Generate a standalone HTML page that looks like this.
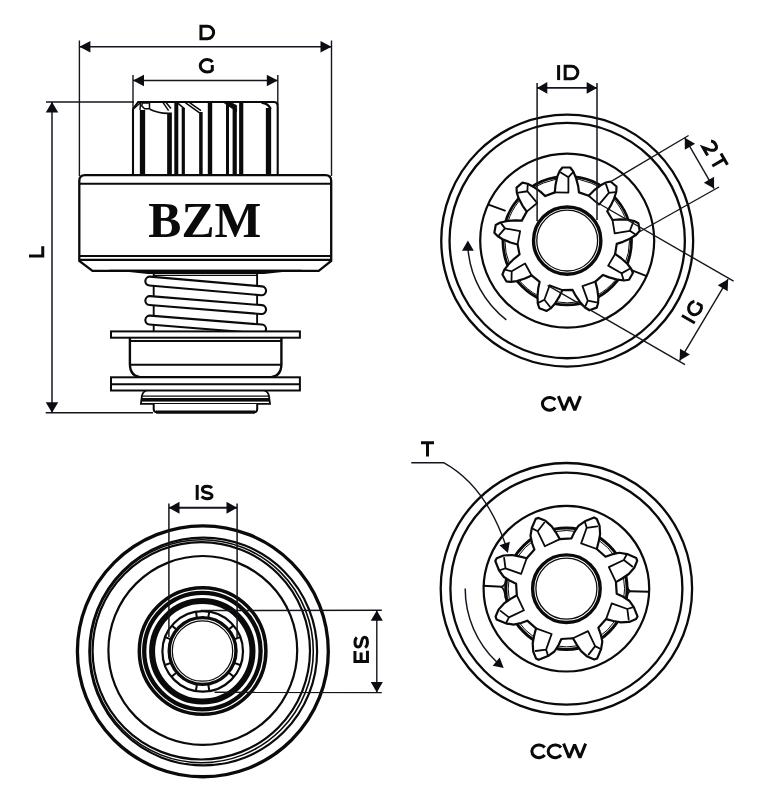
<!DOCTYPE html>
<html><head><meta charset="utf-8"><title>BZM starter drive dimensions</title>
<style>
html,body{margin:0;padding:0;background:#fff;}
body{width:759px;height:800px;overflow:hidden;font-family:"Liberation Sans",sans-serif;}
svg{display:block;}
</style></head><body>
<svg width="759" height="800" viewBox="0 0 759 800">
<rect width="759" height="800" fill="#fff"/>
<line x1="79.40" y1="40.50" x2="79.40" y2="176.00" stroke="#14161f" stroke-width="1.40" />
<line x1="331.50" y1="40.50" x2="331.50" y2="176.00" stroke="#14161f" stroke-width="1.40" />
<line x1="79.40" y1="46.80" x2="331.50" y2="46.80" stroke="#14161f" stroke-width="1.50" />
<polygon points="79.40,46.80 90.40,41.05 90.40,52.55" fill="#0c0d12"/>
<polygon points="331.50,46.80 320.50,52.55 320.50,41.05" fill="#0c0d12"/>
<g transform="translate(207.30,32.50) rotate(0.00) scale(1.000)" fill="none" stroke="#0a0a0a" stroke-width="3.00"><path transform="translate(-7.60,7.50)" d="M1.25,-1.25 V-13.75 H7.7 A6.25,6.25 0 0 1 7.7,-1.25 Z" stroke-linejoin="miter"/></g>
<line x1="133.00" y1="75.00" x2="133.00" y2="108.00" stroke="#14161f" stroke-width="1.40" />
<line x1="277.80" y1="75.00" x2="277.80" y2="105.00" stroke="#14161f" stroke-width="1.40" />
<line x1="133.00" y1="80.50" x2="277.80" y2="80.50" stroke="#14161f" stroke-width="1.50" />
<polygon points="133.00,80.50 144.00,74.75 144.00,86.25" fill="#0c0d12"/>
<polygon points="277.80,80.50 266.80,86.25 266.80,74.75" fill="#0c0d12"/>
<g transform="translate(206.30,65.80) rotate(0.00) scale(1.000)" fill="none" stroke="#0a0a0a" stroke-width="3.00"><path transform="translate(-7.45,7.50)" d="M13.7,-11.3 A6.9,6.25 0 0 0 8.3,-13.75 A6.9,6.25 0 0 0 8.3,-1.25 C10.7,-1.25 12.5,-2.0 13.45,-3.2 V-8.3" stroke-linejoin="miter"/></g>
<line x1="46.00" y1="102.00" x2="134.00" y2="102.00" stroke="#14161f" stroke-width="1.40" />
<line x1="45.70" y1="412.80" x2="153.00" y2="412.80" stroke="#14161f" stroke-width="1.40" />
<line x1="52.00" y1="102.00" x2="52.00" y2="412.80" stroke="#14161f" stroke-width="1.50" />
<polygon points="52.00,102.00 58.25,112.50 45.75,112.50" fill="#0c0d12"/>
<polygon points="52.00,412.80 45.75,402.30 58.25,402.30" fill="#0c0d12"/>
<g transform="translate(36.50,251.80) rotate(-90.00) scale(1.000)" fill="none" stroke="#0a0a0a" stroke-width="3.00"><path transform="translate(-5.50,7.50)" d="M1.25,-15.00 V-1.25 H11" stroke-linejoin="miter"/></g>
<path d="M133,175 V109.2 L138.2,102 H273.8 Q277.7,102 277.7,106.2 V175" fill="#fff" stroke="#0a0a0a" stroke-width="2.10" />
<rect x="139.85" y="110.00" width="5.30" height="65.00" fill="#0a0a0a"/>
<rect x="167.15" y="112.50" width="4.70" height="62.50" fill="#0a0a0a"/>
<rect x="174.30" y="102.00" width="4.00" height="73.00" fill="#0a0a0a"/>
<rect x="181.70" y="108.00" width="3.20" height="67.00" fill="#0a0a0a"/>
<rect x="199.15" y="112.00" width="3.50" height="63.00" fill="#0a0a0a"/>
<rect x="207.80" y="102.00" width="4.40" height="73.00" fill="#0a0a0a"/>
<rect x="226.00" y="104.50" width="3.00" height="70.50" fill="#0a0a0a"/>
<rect x="232.60" y="109.00" width="4.20" height="66.00" fill="#0a0a0a"/>
<rect x="239.10" y="102.00" width="4.20" height="73.00" fill="#0a0a0a"/>
<rect x="265.85" y="108.00" width="5.30" height="67.00" fill="#0a0a0a"/>
<path d="M134.3,108.3 L140.6,102.6 L140,110" fill="none" stroke="#0a0a0a" stroke-width="1.40" />
<path d="M142.3,103 H149.5 V108.8 H144.6 L141.8,106 Z" fill="none" stroke="#0a0a0a" stroke-width="1.50" />
<path d="M149.8,109.2 Q158,113.2 167.6,113.4" fill="none" stroke="#0a0a0a" stroke-width="1.60" />
<path d="M162.9,102.4 L168.6,110.6 M166,102.4 L171,108.4" fill="none" stroke="#0a0a0a" stroke-width="1.50" />
<path d="M177.2,102.6 L184.6,108.8" fill="none" stroke="#0a0a0a" stroke-width="1.60" />
<path d="M185.3,102.6 L199.6,112.8 M189.6,102.6 L201,110.6" fill="none" stroke="#0a0a0a" stroke-width="1.50" />
<path d="M223.6,102.5 L236.6,111.5 V105.5 L231,102.5 Z" fill="#0a0a0a" stroke="#0a0a0a" stroke-width="0.80" />
<path d="M261.5,102.6 Q268.5,103.5 270.6,109" fill="none" stroke="#0a0a0a" stroke-width="2.40" />
<path d="M79.3,261 V181 Q79.3,175.2 85,175.2 H325.5 Q331.2,175.2 331.2,181 V261 L318.7,270.8 H92.5 Z" fill="#fff" stroke="#0a0a0a" stroke-width="2.30" />
<line x1="79.30" y1="183.70" x2="331.20" y2="183.70" stroke="#0a0a0a" stroke-width="1.90" />
<line x1="79.30" y1="256.00" x2="331.20" y2="256.00" stroke="#0a0a0a" stroke-width="1.90" />
<line x1="79.30" y1="259.90" x2="331.20" y2="259.90" stroke="#0a0a0a" stroke-width="2.30" />
<polygon points="108,269.8 303,269.8 264,274 148,274" fill="#0a0a0a"/>
<text x="204.8" y="236.5" text-anchor="middle" font-family="Liberation Serif, serif" font-weight="bold" font-size="49.6" fill="#0a0a0a">BZM</text>
<line x1="153.70" y1="273.00" x2="153.70" y2="332.00" stroke="#0a0a0a" stroke-width="1.90" />
<line x1="257.10" y1="273.00" x2="257.10" y2="332.00" stroke="#0a0a0a" stroke-width="1.90" />
<line x1="153.70" y1="275.40" x2="257.10" y2="275.40" stroke="#0a0a0a" stroke-width="1.40" />
<clipPath id="spr"><rect x="130" y="272" width="150" height="59.5"/></clipPath>
<g clip-path="url(#spr)" stroke-linecap="round">
<line x1="149.80" y1="281.10" x2="261.60" y2="290.80" stroke="#0a0a0a" stroke-width="11.00" />
<line x1="149.80" y1="281.10" x2="261.60" y2="290.80" stroke="#fff" stroke-width="6.80" />
<line x1="149.80" y1="300.60" x2="261.60" y2="309.60" stroke="#0a0a0a" stroke-width="11.00" />
<line x1="149.80" y1="300.60" x2="261.60" y2="309.60" stroke="#fff" stroke-width="6.80" />
<line x1="149.80" y1="320.10" x2="261.60" y2="329.00" stroke="#0a0a0a" stroke-width="11.00" />
<line x1="149.80" y1="320.10" x2="261.60" y2="329.00" stroke="#fff" stroke-width="6.80" />
</g>
<path d="M146.5,390.5 Q142.6,391.6 141.9,396.2 L140.9,403.8 H270 L269,396.2 Q268.3,391.6 264.4,390.5" fill="#fff" stroke="#0a0a0a" stroke-width="1.80" />
<line x1="141.90" y1="396.20" x2="269.00" y2="396.20" stroke="#0a0a0a" stroke-width="1.30" />
<rect x="141.3" y="398.0" width="128.3" height="3.6" fill="#0a0a0a"/>
<path d="M153.7,404 V409 Q153.7,412.4 157.4,412.4 H253.5 Q257.2,412.4 257.2,409 V404" fill="#fff" stroke="#0a0a0a" stroke-width="2.00" />
<line x1="156.00" y1="412.00" x2="255.00" y2="412.00" stroke="#0a0a0a" stroke-width="2.80" />
<path d="M129.9,337.7 V364 Q129.9,377.3 143,377.3 H268.3 Q281.4,377.3 281.4,364 V337.7" fill="#fff" stroke="#0a0a0a" stroke-width="2.40" />
<line x1="129.90" y1="341.00" x2="281.40" y2="341.00" stroke="#0a0a0a" stroke-width="1.90" />
<line x1="130.20" y1="364.80" x2="281.10" y2="364.80" stroke="#0a0a0a" stroke-width="1.90" />
<rect x="111.0" y="331.4" width="188.9" height="6.3" fill="#fff" stroke="#0a0a0a" stroke-width="2.0"/>
<rect x="111.0" y="377.3" width="188.9" height="13.2" fill="#fff" stroke="#0a0a0a" stroke-width="2.0"/>
<line x1="111.00" y1="384.30" x2="299.90" y2="384.30" stroke="#0a0a0a" stroke-width="1.90" />
<circle cx="567.20" cy="240.60" r="125.95" fill="none" stroke="#0a0a0a" stroke-width="2.30"/>
<circle cx="567.20" cy="240.60" r="117.65" fill="none" stroke="#0a0a0a" stroke-width="2.30"/>
<circle cx="567.20" cy="240.60" r="87.00" fill="none" stroke="#0a0a0a" stroke-width="2.20"/>
<circle cx="567.20" cy="240.60" r="64.30" fill="none" stroke="#0a0a0a" stroke-width="2.80"/>
<circle cx="567.20" cy="240.60" r="62.30" fill="none" stroke="#0a0a0a" stroke-width="1.00"/>
<line x1="488.50" y1="204.60" x2="505.60" y2="210.90" stroke="#0a0a0a" stroke-width="1.90" />
<line x1="631.50" y1="270.20" x2="647.30" y2="276.30" stroke="#0a0a0a" stroke-width="1.90" />
<path d="M554.80,192.40 L555.50,185.00 L557.30,176.70 L559.60,171.20 L562.40,167.50 L570.20,167.50 L573.40,171.60 L576.20,178.60 L578.10,185.90 L579.00,192.40 L588.68,195.71 L593.98,190.49 L600.69,185.29 L605.99,182.55 L610.51,181.52 L616.49,186.53 L616.30,191.73 L613.95,198.89 L610.71,205.70 L607.22,211.26 L612.51,220.02 L619.92,219.42 L628.41,219.75 L634.23,221.06 L638.36,223.18 L639.71,230.86 L636.23,234.72 L629.82,238.70 L622.96,241.84 L616.72,243.85 L615.14,253.96 L621.20,258.27 L627.49,263.98 L631.10,268.72 L632.91,272.99 L629.01,279.75 L623.86,280.47 L616.39,279.39 L609.12,277.39 L603.04,274.92 L595.34,281.65 L597.21,288.85 L598.36,297.26 L598.08,303.22 L596.71,307.65 L589.38,310.32 L584.97,307.56 L579.95,301.94 L575.67,295.73 L572.60,289.93 L562.37,290.13 L559.18,296.85 L554.65,304.03 L550.61,308.41 L546.71,310.93 L539.38,308.27 L537.77,303.32 L537.54,295.78 L538.25,288.27 L539.63,281.86 L531.66,275.44 L524.90,278.53 L516.81,281.12 L510.90,281.88 L506.29,281.31 L502.39,274.55 L504.34,269.73 L509.01,263.81 L514.38,258.51 L519.56,254.48 L517.58,244.44 L510.41,242.47 L502.55,239.25 L497.53,236.03 L494.38,232.63 L495.73,224.95 L500.32,222.51 L507.70,220.97 L515.22,220.37 L521.78,220.61 L526.72,211.65 L522.50,205.53 L518.54,198.01 L516.77,192.32 L516.54,187.69 L522.51,182.67 L527.60,183.76 L534.24,187.32 L540.39,191.69 L545.26,196.09 Z" fill="#fff" stroke="#0a0a0a" stroke-width="2.20" stroke-linejoin="round"/><path d="M560.80,172.60 L568.40,177.20 L572.70,172.60 M568.40,177.20 L568.40,192.60 L554.80,192.40 M606.01,184.40 L608.87,192.80 L615.12,192.04 M608.87,192.80 L598.97,204.60 L588.68,195.71 M633.06,222.49 L629.85,230.77 L635.12,234.21 M629.85,230.77 L614.68,233.45 L612.51,220.02 M629.29,269.06 L621.51,273.34 L623.34,279.36 M621.51,273.34 L608.17,265.64 L615.14,253.96 M596.47,302.31 L587.76,300.59 L585.29,306.38 M587.76,300.59 L582.49,286.12 L595.34,281.65 M549.96,306.69 L544.39,299.77 L538.77,302.62 M544.39,299.77 L549.66,285.29 L562.37,290.13 M511.51,280.14 L511.69,271.26 L505.56,269.84 M511.69,271.26 L525.03,263.56 L531.66,275.44 M499.12,235.09 L504.97,228.41 L501.19,223.38 M504.97,228.41 L520.14,231.08 L517.58,244.44 M518.59,192.62 L527.37,191.26 L527.70,184.97 M527.37,191.26 L537.27,203.06 L526.72,211.65" fill="none" stroke="#0a0a0a" stroke-width="1.80" stroke-linejoin="round" stroke-linecap="round"/>
<circle cx="567.20" cy="240.60" r="33.65" fill="#fff" stroke="#0a0a0a" stroke-width="3.40"/>
<circle cx="567.20" cy="240.60" r="30.40" fill="none" stroke="#0a0a0a" stroke-width="1.30"/>
<path d="M506.32,319.94 A100,100 0 0 1 468.10,250.00" fill="none" stroke="#14161f" stroke-width="1.50" />
<polygon points="467.90,240.40 473.80,250.70 462.00,250.70" fill="#0c0d12"/>
<line x1="537.10" y1="83.00" x2="537.10" y2="221.00" stroke="#14161f" stroke-width="1.50" />
<line x1="597.00" y1="83.00" x2="597.00" y2="220.00" stroke="#14161f" stroke-width="1.50" />
<line x1="537.00" y1="87.90" x2="597.00" y2="87.90" stroke="#14161f" stroke-width="1.80" />
<polygon points="537.00,87.90 547.30,82.00 547.30,93.80" fill="#0c0d12"/>
<polygon points="597.00,87.90 586.70,93.80 586.70,82.00" fill="#0c0d12"/>
<g transform="translate(568.20,72.60) rotate(0.00) scale(1.000)" fill="none" stroke="#0a0a0a" stroke-width="3.00"><path transform="translate(-10.90,7.50)" d="M1.3,-15.00 V0" stroke-linejoin="miter"/><path transform="translate(-4.30,7.50)" d="M1.25,-1.25 V-13.75 H7.7 A6.25,6.25 0 0 1 7.7,-1.25 Z" stroke-linejoin="miter"/></g>
<line x1="609.50" y1="182.40" x2="688.60" y2="135.50" stroke="#14161f" stroke-width="1.40" />
<line x1="640.00" y1="231.50" x2="719.00" y2="187.00" stroke="#14161f" stroke-width="1.40" />
<line x1="684.80" y1="137.80" x2="714.10" y2="188.60" stroke="#14161f" stroke-width="1.40" />
<polygon points="684.80,137.80 695.06,143.77 684.84,149.67" fill="#0c0d12"/>
<polygon points="714.10,188.60 703.84,182.63 714.06,176.73" fill="#0c0d12"/>
<g transform="translate(714.60,155.00) rotate(60.00) scale(1.000)" fill="none" stroke="#0a0a0a" stroke-width="3.00"><path transform="translate(-14.90,7.50)" d="M1.0,-11.4 C2.2,-13 3.9,-13.75 6,-13.75 C8.8,-13.75 10.5,-12.3 10.5,-10.2 C10.5,-8.6 9.8,-7.5 8.1,-5.9 L2.6,-1.25 H11.8" stroke-linejoin="miter"/><path transform="translate(1.90,7.50)" d="M0,-13.75 H13 M6.5,-13.75 V0" stroke-linejoin="miter"/></g>
<line x1="598.00" y1="203.00" x2="733.60" y2="281.20" stroke="#14161f" stroke-width="1.40" />
<line x1="547.60" y1="285.40" x2="685.00" y2="364.60" stroke="#14161f" stroke-width="1.40" />
<line x1="728.10" y1="279.20" x2="679.60" y2="360.60" stroke="#14161f" stroke-width="1.40" />
<polygon points="728.10,279.20 727.67,291.16 717.79,285.28" fill="#0c0d12"/>
<polygon points="679.60,360.60 680.03,348.64 689.91,354.52" fill="#0c0d12"/>
<g transform="translate(693.00,311.30) rotate(-60.00) scale(1.000)" fill="none" stroke="#0a0a0a" stroke-width="3.00"><path transform="translate(-10.55,7.50)" d="M1.3,-15.00 V0" stroke-linejoin="miter"/><path transform="translate(-4.35,7.50)" d="M13.7,-11.3 A6.9,6.25 0 0 0 8.3,-13.75 A6.9,6.25 0 0 0 8.3,-1.25 C10.7,-1.25 12.5,-2.0 13.45,-3.2 V-8.3" stroke-linejoin="miter"/></g>
<g transform="translate(561.40,403.80) rotate(0.00) scale(1.020)" fill="none" stroke="#0a0a0a" stroke-width="3.00"><path transform="translate(-19.85,7.50)" d="M13.9,-11.2 A7.0,6.25 0 1 0 13.9,-3.8" stroke-linejoin="miter"/><path transform="translate(-4.15,7.50)" d="M1.2,-15 L6.7,-1.2 L12,-14.2 L17.3,-1.2 L22.8,-15" stroke-linejoin="bevel"/></g>
<circle cx="202.85" cy="651.30" r="125.45" fill="none" stroke="#0a0a0a" stroke-width="3.30"/>
<circle cx="203.20" cy="651.50" r="113.90" fill="none" stroke="#0a0a0a" stroke-width="2.20"/>
<circle cx="201.80" cy="651.20" r="111.50" fill="none" stroke="#0a0a0a" stroke-width="1.60"/>
<circle cx="201.30" cy="650.80" r="108.70" fill="none" stroke="#0a0a0a" stroke-width="2.20"/>
<circle cx="202.80" cy="650.40" r="94.40" fill="none" stroke="#0a0a0a" stroke-width="2.20"/>
<circle cx="202.60" cy="651.00" r="63.30" fill="none" stroke="#0a0a0a" stroke-width="3.50"/>
<circle cx="202.40" cy="651.10" r="58.20" fill="none" stroke="#0a0a0a" stroke-width="4.30"/>
<circle cx="202.30" cy="651.30" r="50.20" fill="none" stroke="#0a0a0a" stroke-width="6.00"/>
<circle cx="202.70" cy="651.40" r="40.30" fill="none" stroke="#0a0a0a" stroke-width="2.20"/>
<circle cx="202.60" cy="651.00" r="33.40" fill="none" stroke="#0a0a0a" stroke-width="3.40"/>
<circle cx="202.50" cy="651.00" r="30.20" fill="none" stroke="#0a0a0a" stroke-width="1.20"/>
<path d="M196.85,617.08 L195.93,611.66 M208.35,617.08 L209.27,611.66 M229.18,629.11 L233.42,625.60 M234.94,639.07 L240.09,637.16 M234.94,663.13 L240.09,665.04 M229.18,673.09 L233.42,676.60 M208.35,685.12 L209.27,690.54 M196.85,685.12 L195.93,690.54 M176.02,673.09 L171.78,676.60 M170.26,663.13 L165.11,665.04 M170.26,639.07 L165.11,637.16 M176.02,629.11 L171.78,625.60" fill="none" stroke="#0a0a0a" stroke-width="2.00" />
<line x1="168.90" y1="503.50" x2="168.90" y2="637.00" stroke="#14161f" stroke-width="1.50" />
<line x1="237.10" y1="503.50" x2="237.10" y2="639.00" stroke="#14161f" stroke-width="1.50" />
<line x1="168.90" y1="507.80" x2="237.10" y2="507.80" stroke="#14161f" stroke-width="2.00" />
<polygon points="168.90,507.80 179.50,501.85 179.50,513.75" fill="#0c0d12"/>
<polygon points="237.10,507.80 226.50,513.75 226.50,501.85" fill="#0c0d12"/>
<g transform="translate(204.60,492.40) rotate(0.00) scale(1.000)" fill="none" stroke="#0a0a0a" stroke-width="3.00"><path transform="translate(-8.70,7.50)" d="M1.3,-15.00 V0" stroke-linejoin="miter"/><path transform="translate(-3.90,7.50)" d="M11.3,-11.9 C10.1,-13.2 8.4,-13.75 6.4,-13.75 C3.5,-13.75 1.7,-12.4 1.7,-10.4 C1.7,-8.3 3.6,-7.75 6.4,-7.25 C9.3,-6.7 11.3,-6.1 11.3,-4.2 C11.3,-2.4 9.4,-1.25 6.4,-1.25 C4.1,-1.25 2.2,-2.0 1.0,-3.5" stroke-linejoin="miter"/></g>
<line x1="200.80" y1="610.50" x2="381.80" y2="610.30" stroke="#14161f" stroke-width="1.40" />
<line x1="214.50" y1="692.30" x2="381.80" y2="692.50" stroke="#14161f" stroke-width="1.40" />
<line x1="376.80" y1="610.40" x2="376.80" y2="692.40" stroke="#14161f" stroke-width="1.40" />
<polygon points="376.80,610.40 382.85,620.80 370.75,620.80" fill="#0c0d12"/>
<polygon points="376.80,692.40 370.75,682.00 382.85,682.00" fill="#0c0d12"/>
<g transform="translate(361.20,649.40) rotate(-90.00) scale(1.000)" fill="none" stroke="#0a0a0a" stroke-width="3.00"><path transform="translate(-13.40,7.50)" d="M11.7,-13.75 H1.25 V-1.25 H12 M1.25,-7.6 H10.4" stroke-linejoin="miter"/><path transform="translate(0.80,7.50)" d="M11.3,-11.9 C10.1,-13.2 8.4,-13.75 6.4,-13.75 C3.5,-13.75 1.7,-12.4 1.7,-10.4 C1.7,-8.3 3.6,-7.75 6.4,-7.25 C9.3,-6.7 11.3,-6.1 11.3,-4.2 C11.3,-2.4 9.4,-1.25 6.4,-1.25 C4.1,-1.25 2.2,-2.0 1.0,-3.5" stroke-linejoin="miter"/></g>
<circle cx="566.40" cy="588.70" r="125.70" fill="none" stroke="#0a0a0a" stroke-width="2.30"/>
<circle cx="566.40" cy="588.70" r="116.00" fill="none" stroke="#0a0a0a" stroke-width="2.30"/>
<circle cx="566.40" cy="588.70" r="82.80" fill="none" stroke="#0a0a0a" stroke-width="2.20"/>
<circle cx="566.40" cy="588.70" r="60.70" fill="none" stroke="#0a0a0a" stroke-width="3.00"/>
<circle cx="566.40" cy="588.70" r="58.20" fill="none" stroke="#0a0a0a" stroke-width="1.00"/>
<line x1="482.80" y1="585.80" x2="501.70" y2="586.80" stroke="#0a0a0a" stroke-width="2.00" />
<path d="M501.2,586.8 Q505.3,586 506.6,579.8 M501.2,586.8 Q504.6,588.5 505.6,598.5" fill="none" stroke="#0a0a0a" stroke-width="1.80" />
<line x1="630.00" y1="591.20" x2="649.20" y2="591.80" stroke="#0a0a0a" stroke-width="2.00" />
<path d="M630.3,591.2 Q626.8,590 626.2,580 M630.3,591.2 Q627.2,592.5 626.7,598" fill="none" stroke="#0a0a0a" stroke-width="1.80" />
<path d="M571.47,538.40 L574.24,532.40 L578.40,525.90 L584.85,521.30 L594.10,517.60 L596.80,519.00 L599.60,525.90 L600.10,534.20 L598.70,541.60 L596.80,549.00 L605.55,556.72 L611.75,554.43 L619.29,552.78 L627.11,554.09 L636.26,558.01 L637.18,560.91 L634.28,567.77 L628.77,573.99 L622.54,578.23 L615.97,582.12 L616.70,593.77 L622.70,596.54 L629.20,600.70 L633.80,607.15 L637.50,616.40 L636.10,619.10 L629.20,621.90 L620.90,622.40 L613.50,621.00 L606.10,619.10 L598.38,627.85 L600.67,634.05 L602.32,641.59 L601.01,649.41 L597.09,658.56 L594.19,659.48 L587.33,656.58 L581.11,651.07 L576.87,644.84 L572.98,638.27 L561.33,639.00 L558.56,645.00 L554.40,651.50 L547.95,656.10 L538.70,659.80 L536.00,658.40 L533.20,651.50 L532.70,643.20 L534.10,635.80 L536.00,628.40 L527.25,620.68 L521.05,622.97 L513.51,624.62 L505.69,623.31 L496.54,619.39 L495.62,616.49 L498.52,609.63 L504.03,603.41 L510.26,599.17 L516.83,595.28 L516.10,583.63 L510.10,580.86 L503.60,576.70 L499.00,570.25 L495.30,561.00 L496.70,558.30 L503.60,555.50 L511.90,555.00 L519.30,556.40 L526.70,558.30 L534.42,549.55 L532.13,543.35 L530.48,535.81 L531.79,527.99 L535.71,518.84 L538.61,517.92 L545.47,520.82 L551.69,526.33 L555.93,532.56 L559.82,539.13 Z" fill="#fff" stroke="#0a0a0a" stroke-width="2.20" stroke-linejoin="round"/><path d="M584.85,521.80 L586.70,527.80 L597.30,526.40 M586.70,527.80 L581.16,543.40 L596.80,549.00 M626.75,554.44 L623.82,559.99 L632.30,566.50 M623.82,559.99 L608.87,567.10 L615.97,582.12 M633.30,607.15 L627.30,609.00 L628.70,619.60 M627.30,609.00 L611.70,603.46 L606.10,619.10 M600.66,649.05 L595.11,646.12 L588.60,654.60 M595.11,646.12 L588.00,631.17 L572.98,638.27 M547.95,655.60 L546.10,649.60 L535.50,651.00 M546.10,649.60 L551.64,634.00 L536.00,628.40 M506.05,622.96 L508.98,617.41 L500.50,610.90 M508.98,617.41 L523.93,610.30 L516.83,595.28 M499.50,570.25 L505.50,568.40 L504.10,557.80 M505.50,568.40 L521.10,573.94 L526.70,558.30 M532.14,528.35 L537.69,531.28 L544.20,522.80 M537.69,531.28 L544.80,546.23 L559.82,539.13" fill="none" stroke="#0a0a0a" stroke-width="1.80" stroke-linejoin="round" stroke-linecap="round"/>
<circle cx="566.40" cy="588.70" r="33.80" fill="#fff" stroke="#0a0a0a" stroke-width="3.40"/>
<circle cx="566.40" cy="588.70" r="30.50" fill="none" stroke="#0a0a0a" stroke-width="1.30"/>
<path d="M465.2,588.5 A101,101 0 0 0 497,662.3" fill="none" stroke="#14161f" stroke-width="1.50" />
<polygon points="503.70,668.00 492.72,665.84 499.66,657.56" fill="#0c0d12"/>
<path d="M411.3,462.8 H444 C468,476 491,502 506,546" fill="none" stroke="#14161f" stroke-width="1.40" />
<polygon points="507.90,552.90 499.44,545.24 509.84,541.65" fill="#0c0d12"/>
<g transform="translate(427.50,449.10) rotate(0.00) scale(1.000)" fill="none" stroke="#0a0a0a" stroke-width="3.00"><path transform="translate(-6.50,7.50)" d="M0,-13.75 H13 M6.5,-13.75 V0" stroke-linejoin="miter"/></g>
<g transform="translate(558.70,751.30) rotate(0.00) scale(1.020)" fill="none" stroke="#0a0a0a" stroke-width="3.00"><path transform="translate(-27.60,7.50)" d="M13.9,-11.2 A7.0,6.25 0 1 0 13.9,-3.8" stroke-linejoin="miter"/><path transform="translate(-11.60,7.50)" d="M13.9,-11.2 A7.0,6.25 0 1 0 13.9,-3.8" stroke-linejoin="miter"/><path transform="translate(3.60,7.50)" d="M1.2,-15 L6.7,-1.2 L12,-14.2 L17.3,-1.2 L22.8,-15" stroke-linejoin="bevel"/></g>
</svg>
</body></html>
